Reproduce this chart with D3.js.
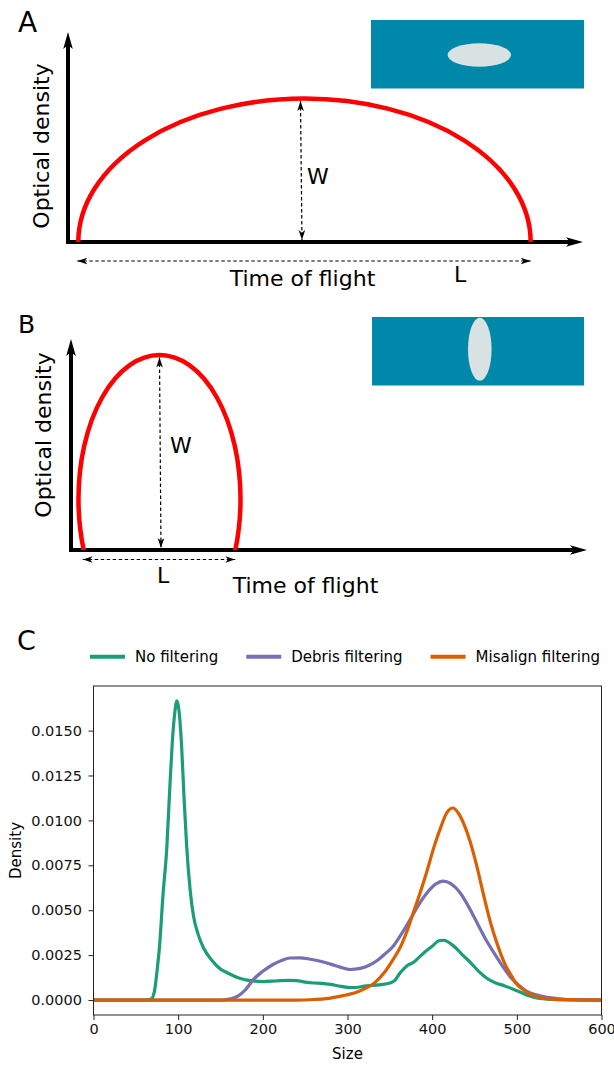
<!DOCTYPE html>
<html>
<head>
<meta charset="utf-8">
<script src="https://cdn.jsdelivr.net/npm/d3@7"></script>
<style>
  body { margin: 0; background: #fff; }
  svg { display: block; font-family: "DejaVu Sans", sans-serif; }
</style>
</head>
<body>
<div class="canvas"></div>
<script>
// ---- data ----
// schematic pulses, in axis units: [centre time, half length, centre height, vertical radius]
const pulseA = [0.4592, 0.4392, 0, 0.683];
const pulseB = [0.1715, 0.157, 0.241, 0.683];

// panel C: size distributions, [size, density]
const seriesNames = ['No filtering', 'Debris filtering', 'Misalign filtering'];
const seriesColors = ['#1b9e77', '#7570b3', '#d95f02'];

const noFiltering = [
  [0, 0], [40, 0], [60, 0], [68, 0.00005], [72, 0.0005], [75, 0.0016], [78, 0.003],
  [82, 0.0058], [86.6, 0.0085], [90, 0.0117], [93, 0.0143], [96, 0.016], [98.5, 0.01665],
  [101, 0.0161], [104, 0.0142], [107, 0.0112], [110, 0.0086], [114, 0.0062], [118, 0.0047],
  [124, 0.0036], [130, 0.0029], [140, 0.0022], [150, 0.00172], [158, 0.00152], [170, 0.00125],
  [180, 0.00112], [190, 0.00105], [200, 0.00103], [215, 0.00106], [230, 0.0011], [240, 0.00108],
  [250, 0.001], [260, 0.00095], [270, 0.00093], [280, 0.00087], [290, 0.00078], [300, 0.00071],
  [310, 0.0007], [320, 0.00078], [330, 0.00082], [340, 0.00086], [350, 0.00095], [356, 0.0011],
  [362, 0.0015], [370, 0.0019], [378, 0.0021], [385, 0.0024], [392, 0.0027], [400, 0.003],
  [408, 0.0033], [414, 0.00333], [420, 0.0032], [428, 0.0029], [436, 0.0025], [445, 0.0021],
  [455, 0.0016], [465, 0.0012], [475, 0.00095], [485, 0.0008], [495, 0.00062], [505, 0.00042],
  [515, 0.00022], [525, 0.0001], [540, 0.00004], [560, 0.00001], [600, 0]
];

const debrisFiltering = [
  [0, 0], [100, 0], [150, 0], [160, 0.00005], [170, 0.0002], [180, 0.0006], [189, 0.00115],
  [200, 0.0016], [212, 0.00198], [222, 0.0022], [232, 0.00234], [244, 0.00235], [256, 0.00227],
  [268, 0.00216], [280, 0.002], [292, 0.00182], [303, 0.0017], [315, 0.00176], [325, 0.00192],
  [335, 0.0022], [345, 0.0026], [354, 0.003], [364, 0.0037], [374, 0.00448], [384, 0.0053],
  [394, 0.00597], [404, 0.00645], [413, 0.00662], [422, 0.00648], [433, 0.00597], [443, 0.0052],
  [453, 0.0043], [463, 0.0034], [473, 0.00263], [483, 0.0019], [493, 0.00124], [503, 0.0008],
  [512, 0.00048], [524, 0.00028], [536, 0.00015], [550, 0.00007], [560, 0.00003], [580, 0.00001],
  [600, 0]
];

const misalignFiltering = [
  [0, 0], [150, 0], [240, 0], [260, 0.00003], [275, 0.00008], [284, 0.00015], [295, 0.00025],
  [303, 0.00033], [313, 0.00048], [323, 0.00069], [333, 0.001], [343, 0.0015], [353, 0.0022],
  [363, 0.003], [370, 0.0038], [378, 0.0049], [386, 0.006], [394, 0.0072], [402, 0.0085],
  [410, 0.0096], [417, 0.0104], [424.5, 0.01069], [431, 0.0104], [437.5, 0.0098], [445, 0.0088],
  [453, 0.0074], [461, 0.0058], [469, 0.0043], [477, 0.0031], [485, 0.0021], [493, 0.0014],
  [500, 0.00088], [510, 0.0005], [520, 0.00024], [530, 0.00012], [543, 0.00005], [560, 0.00002],
  [600, 0]
];

const xTicks = [0, 100, 200, 300, 400, 500, 600];
const yTicks = [0, 0.0025, 0.005, 0.0075, 0.01, 0.0125, 0.015];

// ---- svg ----
const svg = d3.select('.canvas')
  .append('svg')
  .attr('width', 614)
  .attr('height', 1065);

const defs = svg.append('defs');

// big arrow head for the schematic axes
defs.append('marker')
  .attr('id', 'axisHead')
  .attr('viewBox', '0 -5 17 10')
  .attr('refX', 4)
  .attr('refY', 0)
  .attr('markerWidth', 17)
  .attr('markerHeight', 10)
  .attr('markerUnits', 'userSpaceOnUse')
  .attr('orient', 'auto')
  .append('path')
  .attr('d', 'M0,-4.8L17,0L0,4.8L4,0Z')
  .attr('fill', '#000');

// small arrow head for the dashed measures
defs.append('marker')
  .attr('id', 'dashHead')
  .attr('viewBox', '0 -3.5 10 7')
  .attr('refX', 10)
  .attr('refY', 0)
  .attr('markerWidth', 10)
  .attr('markerHeight', 7)
  .attr('markerUnits', 'userSpaceOnUse')
  .attr('orient', 'auto-start-reverse')
  .append('path')
  .attr('d', 'M0,-3.3L10,0L0,3.3L2.8,0Z')
  .attr('fill', '#000');

// ---- schematic panels A and B ----
const drawSchematic = (opts) => {
  const g = svg.append('g');
  const x = d3.scaleLinear().domain([0, 1]).range(opts.xRange);
  const y = d3.scaleLinear().domain([0, 1]).range(opts.yRange);
  const p = opts.pulse;

  // panel letter
  g.append('text')
    .attr('x', 18).attr('y', opts.letterY)
    .attr('font-size', opts.letterSize)
    .text(opts.letter);

  // inset picture of the particle
  g.append('rect')
    .attr('x', opts.box[0]).attr('y', opts.box[1])
    .attr('width', opts.box[2]).attr('height', opts.box[3])
    .attr('fill', '#0088ab');
  g.append('ellipse')
    .attr('cx', opts.blob[0]).attr('cy', opts.blob[1])
    .attr('rx', opts.blob[2]).attr('ry', opts.blob[3])
    .attr('fill', '#d9e2e2');

  // axes
  g.append('line')
    .attr('x1', x(0) - 2).attr('x2', x(1) - 13)
    .attr('y1', y(0)).attr('y2', y(0))
    .attr('stroke', '#000').attr('stroke-width', 4)
    .attr('marker-end', 'url(#axisHead)');
  g.append('line')
    .attr('x1', x(0)).attr('x2', x(0))
    .attr('y1', y(0) + 2).attr('y2', y(1) + 13)
    .attr('stroke', '#000').attr('stroke-width', 4)
    .attr('marker-end', 'url(#axisHead)');

  // pulse (part of an ellipse above the baseline)
  const clipId = 'clip' + opts.letter;
  defs.append('clipPath').attr('id', clipId)
    .append('rect')
    .attr('x', x(0)).attr('y', y(1))
    .attr('width', x(1) - x(0)).attr('height', y(0) - y(1));
  g.append('ellipse')
    .attr('clip-path', `url(#${clipId})`)
    .attr('cx', x(p[0])).attr('cy', y(p[2]))
    .attr('rx', x(p[1]) - x(0)).attr('ry', y(0) - y(p[3]))
    .attr('fill', 'none')
    .attr('stroke', '#ff0000')
    .attr('stroke-width', 4.5);

  // width / height measures
  const base = Math.sqrt(1 - Math.pow(p[2] / p[3], 2)) * p[1];
  const top = p[2] + p[3];
  g.append('line')
    .attr('x1', x(p[0]) + opts.wShift).attr('x2', x(p[0]) + opts.wShift + 1.5)
    .attr('y1', y(top) + 2.5).attr('y2', y(0) - 2)
    .attr('stroke', '#000').attr('stroke-width', 1.2)
    .attr('stroke-dasharray', '3.5,2.5')
    .attr('marker-start', 'url(#dashHead)')
    .attr('marker-end', 'url(#dashHead)');
  g.append('line')
    .attr('x1', x(p[0] - base) - 1).attr('x2', x(p[0] + base))
    .attr('y1', y(0) + opts.lGap).attr('y2', y(0) + opts.lGap)
    .attr('stroke', '#000').attr('stroke-width', 1.2)
    .attr('stroke-dasharray', '3.5,2.5')
    .attr('marker-start', 'url(#dashHead)')
    .attr('marker-end', 'url(#dashHead)');

  g.append('text')
    .attr('x', opts.wLabel[0]).attr('y', opts.wLabel[1])
    .attr('font-size', 22).text('W');
  g.append('text')
    .attr('x', opts.lLabel[0]).attr('y', opts.lLabel[1])
    .attr('font-size', 22).text('L');
  g.append('text')
    .attr('x', opts.xTitle[0]).attr('y', opts.xTitle[1])
    .attr('text-anchor', 'middle')
    .attr('font-size', 22).text('Time of flight');
  g.append('text')
    .attr('transform', `translate(${opts.yTitle[0]}, ${opts.yTitle[1]}) rotate(-90)`)
    .attr('text-anchor', 'middle')
    .attr('font-size', 22).text('Optical density');
};

drawSchematic({
  letter: 'A', letterY: 32, letterSize: 28,
  xRange: [68, 583], yRange: [242, 32],
  pulse: pulseA,
  box: [371, 20, 213, 68.5], blob: [479.3, 55, 31.7, 11.7],
  wShift: -4, lGap: 19,
  wLabel: [307, 184], lLabel: [454, 281.5],
  xTitle: [302.5, 286], yTitle: [49, 146]
});

drawSchematic({
  letter: 'B', letterY: 333, letterSize: 25,
  xRange: [71, 587], yRange: [550, 339],
  pulse: pulseB,
  box: [372, 317, 212, 68.5], blob: [479.8, 349.3, 11.8, 31.5],
  wShift: 0, lGap: 9.5,
  wLabel: [170, 453], lLabel: [157, 583],
  xTitle: [305.5, 592.5], yTitle: [51, 435]
});

// ---- panel C ----
const margin = { left: 93.5, right: 601.5, top: 686, bottom: 1015 };

svg.append('text')
  .attr('x', 17).attr('y', 650)
  .attr('font-size', 27)
  .text('C');

const x = d3.scaleLinear()
  .domain([0, 600])
  .range([margin.left, margin.right]);
const y = d3.scaleLinear()
  .domain([-0.000832, 0.017482])
  .range([margin.bottom, margin.top]);

const xAxis = d3.axisBottom(x)
  .tickValues(xTicks)
  .tickSize(5)
  .tickPadding(4)
  .tickFormat(d3.format('d'));
const yAxis = d3.axisLeft(y)
  .tickValues(yTicks)
  .tickSize(5)
  .tickPadding(6.5)
  .tickFormat(d3.format('.4f'));

const xAxisGroup = svg.append('g')
  .attr('transform', `translate(0, ${margin.bottom})`)
  .call(xAxis);
const yAxisGroup = svg.append('g')
  .attr('transform', `translate(${margin.left}, 0)`)
  .call(yAxis);

[xAxisGroup, yAxisGroup].forEach(ax => {
  ax.select('.domain').remove();
  ax.selectAll('line').attr('stroke', '#222').attr('stroke-width', 1);
  ax.selectAll('text')
    .attr('font-family', '"DejaVu Sans", sans-serif')
    .attr('font-size', 14.5)
    .attr('fill', '#111');
});

svg.append('text')
  .attr('x', (margin.left + margin.right) / 2).attr('y', 1059)
  .attr('text-anchor', 'middle')
  .attr('font-size', 15)
  .text('Size');
svg.append('text')
  .attr('transform', `translate(21, ${(margin.top + margin.bottom) / 2}) rotate(-90)`)
  .attr('text-anchor', 'middle')
  .attr('font-size', 15)
  .text('Density');

const line = d3.line()
  .x(d => x(d[0]))
  .y(d => y(d[1]))
  .curve(d3.curveMonotoneX);

const allSeries = [noFiltering, debrisFiltering, misalignFiltering];

svg.append('g')
  .selectAll('path')
  .data(allSeries)
  .enter()
  .append('path')
  .attr('d', line)
  .attr('fill', 'none')
  .attr('stroke', (d, i) => seriesColors[i])
  .attr('stroke-width', 3.2)
  .attr('stroke-linejoin', 'round');

// frame
svg.append('rect')
  .attr('x', margin.left).attr('y', margin.top)
  .attr('width', margin.right - margin.left)
  .attr('height', margin.bottom - margin.top)
  .attr('fill', 'none')
  .attr('stroke', '#222')
  .attr('stroke-width', 1);

// legend above the plot
const legend = svg.append('g');
let lx = 90;
seriesNames.forEach((name, i) => {
  legend.append('line')
    .attr('x1', lx).attr('x2', lx + 35)
    .attr('y1', 656.7).attr('y2', 656.7)
    .attr('stroke', seriesColors[i])
    .attr('stroke-width', 4);
  const t = legend.append('text')
    .attr('x', lx + 45).attr('y', 662)
    .attr('font-size', 15)
    .text(name);
  lx += 45 + t.node().getComputedTextLength() + 28;
});
</script>
</body>
</html>
